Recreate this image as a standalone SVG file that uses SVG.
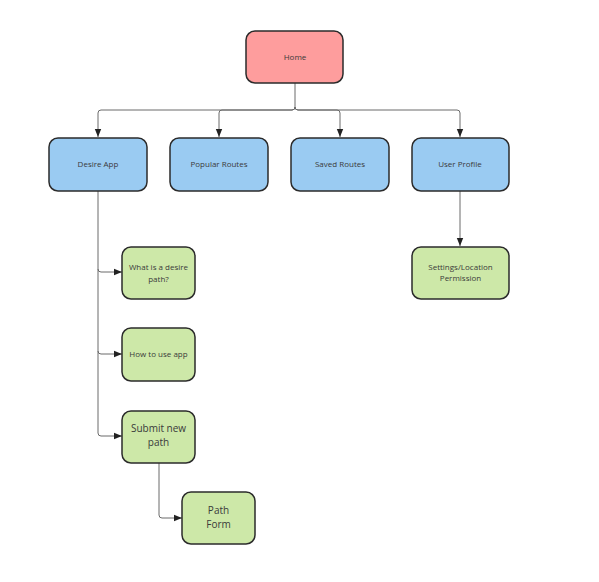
<svg xmlns="http://www.w3.org/2000/svg" width="599" height="582" viewBox="0 0 599 582">
<defs>
<marker id="arr" viewBox="0 0 10 10" refX="10" refY="5" markerWidth="8" markerHeight="8" markerUnits="userSpaceOnUse" orient="auto">
<path d="M0,1 L10,5 L0,9 Z" fill="#222"/>
</marker>
<style>
.box{stroke:#2b2b2b;stroke-width:1.5}
.pink{fill:#fe9d9d}
.blue{fill:#9acbf2}
.green{fill:#cde8a8}
.t{font-family:"Open Sans","Liberation Sans",sans-serif;font-size:8px;fill:#3a3a3a;text-anchor:middle}
.tl{font-family:"Open Sans","Liberation Sans",sans-serif;font-size:10px;fill:#3a3a3a;text-anchor:middle}
.c{fill:none;stroke:#6a6a6a;stroke-width:1}
</style>
</defs>
<rect width="599" height="582" fill="#ffffff"/>
<g id="connectors">
<path class="c" d="M295,83 V107 Q295,110 292,110 H101 Q98,110 98,113 V137" marker-end="url(#arr)"/>
<path class="c" d="M295,107 Q295,110 292,110 H222 Q219,110 219,113 V137" marker-end="url(#arr)"/>
<path class="c" d="M295,107 Q295,110 298,110 H337 Q340,110 340,113 V137" marker-end="url(#arr)"/>
<path class="c" d="M295,107 Q295,110 298,110 H457 Q460,110 460,113 V137" marker-end="url(#arr)"/>
<path class="c" d="M98,191 V269 Q98,272 101,272 H122" marker-end="url(#arr)"/>
<path class="c" d="M98,269 V351 Q98,354 101,354 H122" marker-end="url(#arr)"/>
<path class="c" d="M98,351 V433 Q98,436 101,436 H122" marker-end="url(#arr)"/>
<path class="c" d="M159,463 V515 Q159,518 162,518 H182" marker-end="url(#arr)"/>
<path class="c" d="M460,191 V246" marker-end="url(#arr)"/>
</g>
<g id="home">
<rect class="box pink" x="246" y="31" width="97" height="52" rx="9"/>
<text class="t" x="295" y="60">Home</text>
</g>
<g id="desire-app">
<rect class="box blue" x="49" y="138" width="98" height="53" rx="9"/>
<text class="t" x="98" y="167">Desire App</text>
</g>
<g id="popular-routes">
<rect class="box blue" x="170" y="138" width="98" height="53" rx="9"/>
<text class="t" x="219" y="167">Popular Routes</text>
</g>
<g id="saved-routes">
<rect class="box blue" x="291" y="138" width="98" height="53" rx="9"/>
<text class="t" x="340" y="167">Saved Routes</text>
</g>
<g id="user-profile">
<rect class="box blue" x="412" y="138" width="97" height="53" rx="9"/>
<text class="t" x="460" y="167">User Profile</text>
</g>
<g id="what-is">
<rect class="box green" x="122" y="247" width="73" height="52" rx="9"/>
<text class="t" x="158.5" y="270">What is a desire</text>
<text class="t" x="158.5" y="282">path?</text>
</g>
<g id="how-to-use">
<rect class="box green" x="122" y="328" width="73" height="53" rx="9"/>
<text class="t" x="158.5" y="357">How to use app</text>
</g>
<g id="submit-new-path">
<rect class="box green" x="122" y="411" width="73" height="52" rx="9"/>
<text class="tl" x="158.5" y="432">Submit new</text>
<text class="tl" x="158.5" y="446">path</text>
</g>
<g id="path-form">
<rect class="box green" x="182" y="492" width="73" height="52" rx="9"/>
<text class="tl" x="218.5" y="514">Path</text>
<text class="tl" x="218.5" y="528">Form</text>
</g>
<g id="settings">
<rect class="box green" x="412" y="247" width="97" height="52" rx="9"/>
<text class="t" x="460.5" y="270">Settings/Location</text>
<text class="t" x="460.5" y="281">Permission</text>
</g>
</svg>
